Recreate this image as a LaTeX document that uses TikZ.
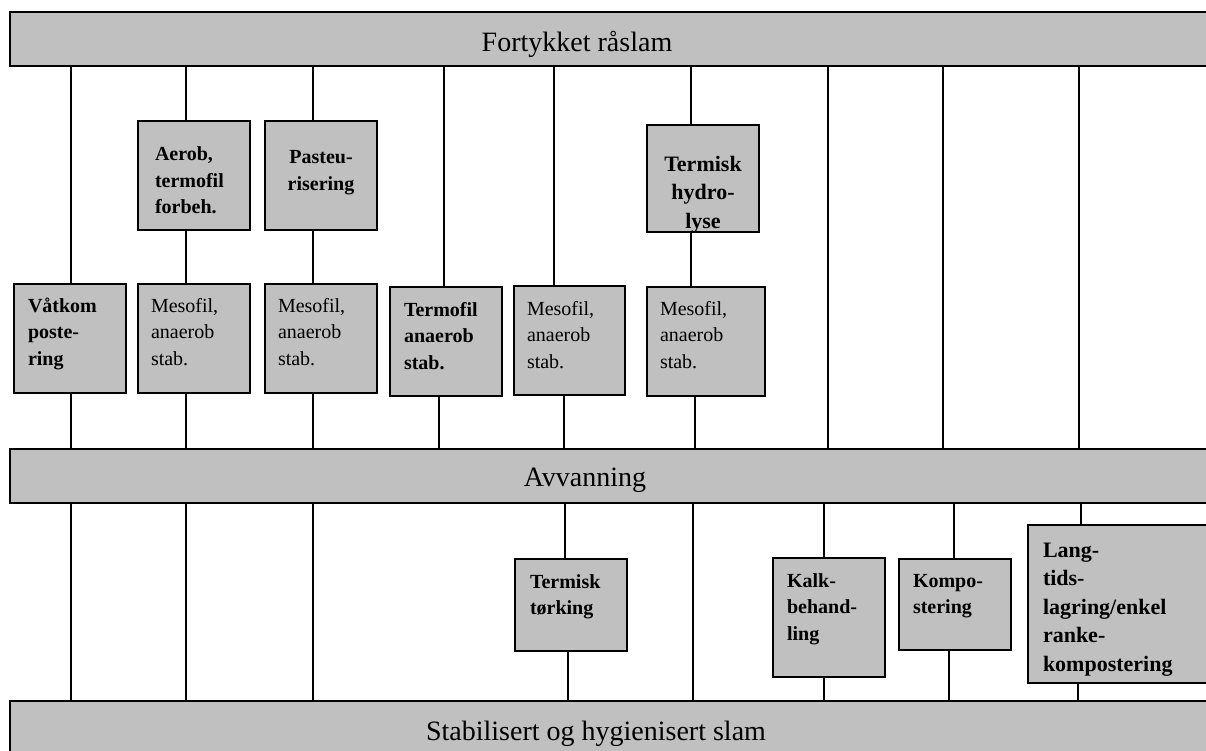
\documentclass[tikz,border=0pt]{standalone}
\usepackage{fontspec}
\setmainfont{Liberation Serif}
\usetikzlibrary{positioning}
\definecolor{slamgray}{RGB}{192,192,192}

\begin{document}
\begin{tikzpicture}[x=1pt, y=-1pt,
  every node/.append style={inner sep=0pt, outer sep=0pt},
  bar/.style={draw=black, fill=slamgray, line width=2.7pt, anchor=north west, minimum width=1240pt, minimum height=54pt},
  bartext/.style={anchor=base, font=\fontsize{28}{34}\selectfont},
  unit/.style={draw=black, fill=slamgray, line width=2.7pt, anchor=north west, align=left, font=\fontsize{20}{26.5}\selectfont},
  bold/.style={font=\fontsize{20}{26.5}\selectfont\bfseries},
  bigbold/.style={font=\fontsize{22}{28.4}\selectfont\bfseries},
  link/.style={line width=2pt}]
  \clip (0,0) rectangle (1206,751);

  \node [bar] (raw) at (10,12) {};
  \node [bartext] (rawtxt) at (577,51.5) {Fortykket råslam};
  \node [bar] (avv) at (10,449) {};
  \node [bartext] (avvtxt) at (585,486.5) {Avvanning};
  \node [bar, minimum height=62pt] (stab) at (10,701) {};
  \node [bartext] (stabtxt) at (596,740.5) {Stabilisert og hygienisert slam};

  \node [unit, bold, inner xsep=17pt, text width=78pt, text height=40pt, text depth=69pt] (aer) at (138,121) {Aerob,\\termofil\\forbeh.};
  \node [unit, bold, align=center, inner xsep=10pt, text width=92pt, text height=43pt, text depth=66pt] (pas) at (265,121) {Pasteu-\\risering};
  \node [unit, minimum width=112pt, minimum height=107pt,
    path picture={\node [bigbold, align=center, text width=92pt, text height=46.5pt, anchor=north] (hydtxt) at (path picture bounding box.north) {Termisk\\hydro-\\lyse};}] (hyd) at (647,125) {};

  \node [unit, bold, inner xsep=14pt, text width=84pt, text height=28pt, text depth=81pt] (vk) at (14,284) {Våtkom\\poste-\\ring};
  \node [unit, inner xsep=13pt, text width=86pt, text height=28pt, text depth=81pt] (mes1) at (138,284) {Mesofil,\\anaerob\\stab.};
  \node [unit, inner xsep=13pt, text width=86pt, text height=28pt, text depth=81pt] (mes2) at (265,284) {Mesofil,\\anaerob\\stab.};
  \node [unit, bold, inner xsep=14pt, text width=84pt, text height=29pt, text depth=80pt] (tmf) at (390,287) {Termofil\\anaerob\\stab.};
  \node [unit, inner xsep=13pt, text width=85pt, text height=29pt, text depth=80pt] (mes3) at (514,286) {Mesofil,\\anaerob\\stab.};
  \node [unit, inner xsep=13pt, text width=92pt, text height=28pt, text depth=81pt] (mes4) at (647,287) {Mesofil,\\anaerob\\stab.};

  \node [unit, bold, inner xsep=15pt, text width=82pt, text height=29pt, text depth=63pt] (tor) at (515,559) {Termisk\\tørking};
  \node [unit, bold, inner xsep=14pt, text width=84pt, text height=29pt, text depth=90pt] (kalk) at (773,558) {Kalk-\\behand-\\ling};
  \node [unit, bold, inner xsep=14pt, text width=84pt, text height=28pt, text depth=63pt] (kom) at (899,559) {Kompo-\\stering};
  \node [unit, bigbold, inner xsep=15pt, text width=182pt, text height=32.5pt, text depth=125.5pt] (lang) at (1028,525) {Lang-\\tids-\\lagring/enkel\\ranke-\\kompostering};

  \coordinate (col1) at (71,0);
  \coordinate (col2) at (186,0);
  \coordinate (col3) at (313,0);
  \coordinate (col4) at (444,0);
  \coordinate (col4b) at (439,0);
  \coordinate (col5) at (554,0);
  \coordinate (col5b) at (564,0);
  \coordinate (col6) at (691,0);
  \coordinate (col6b) at (695,0);
  \coordinate (col7) at (828,0);
  \coordinate (col8) at (943,0);
  \coordinate (col9) at (1079,0);
  \coordinate (low4) at (565,0);
  \coordinate (low4b) at (568,0);
  \coordinate (low5) at (693,0);
  \coordinate (low6) at (824,0);
  \coordinate (low7) at (954,0);
  \coordinate (low7b) at (949,0);
  \coordinate (low8) at (1081,0);
  \coordinate (low8b) at (1078,0);

  \draw[link] (raw.south -| col1) -- (vk.north -| col1);
  \draw[link] (vk.south -| col1) -- (avv.north -| col1);
  \draw[link] (raw.south -| col2) -- (aer.north -| col2);
  \draw[link] (aer.south -| col2) -- (mes1.north -| col2);
  \draw[link] (mes1.south -| col2) -- (avv.north -| col2);
  \draw[link] (raw.south -| col3) -- (pas.north -| col3);
  \draw[link] (pas.south -| col3) -- (mes2.north -| col3);
  \draw[link] (mes2.south -| col3) -- (avv.north -| col3);
  \draw[link] (raw.south -| col4) -- (tmf.north -| col4);
  \draw[link] (tmf.south -| col4b) -- (avv.north -| col4b);
  \draw[link] (raw.south -| col5) -- (mes3.north -| col5);
  \draw[link] (mes3.south -| col5b) -- (avv.north -| col5b);
  \draw[link] (raw.south -| col6) -- (hyd.north -| col6);
  \draw[link] (hyd.south -| col6) -- (mes4.north -| col6);
  \draw[link] (mes4.south -| col6b) -- (avv.north -| col6b);
  \draw[link] (raw.south -| col7) -- (avv.north -| col7);
  \draw[link] (raw.south -| col8) -- (avv.north -| col8);
  \draw[link] (raw.south -| col9) -- (avv.north -| col9);

  \draw[link] (avv.south -| col1) -- (stab.north -| col1);
  \draw[link] (avv.south -| col2) -- (stab.north -| col2);
  \draw[link] (avv.south -| col3) -- (stab.north -| col3);
  \draw[link] (avv.south -| low4) -- (tor.north -| low4);
  \draw[link] (tor.south -| low4b) -- (stab.north -| low4b);
  \draw[link] (avv.south -| low5) -- (stab.north -| low5);
  \draw[link] (avv.south -| low6) -- (kalk.north -| low6);
  \draw[link] (kalk.south -| low6) -- (stab.north -| low6);
  \draw[link] (avv.south -| low7) -- (kom.north -| low7);
  \draw[link] (kom.south -| low7b) -- (stab.north -| low7b);
  \draw[link] (avv.south -| low8) -- (lang.north -| low8);
  \draw[link] (lang.south -| low8b) -- (stab.north -| low8b);
\end{tikzpicture}
\end{document}
